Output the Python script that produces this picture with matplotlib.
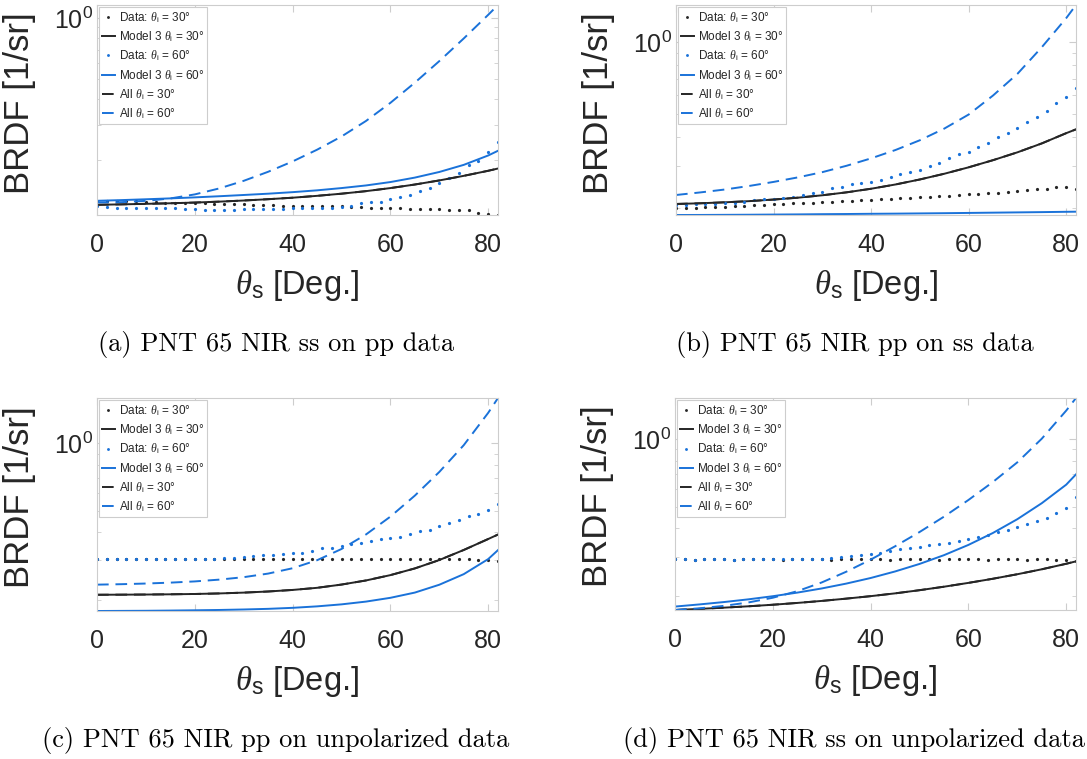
import numpy as np
import matplotlib
matplotlib.use("Agg")
import matplotlib.pyplot as plt
from matplotlib.ticker import LogLocator, NullFormatter

plt.rcParams["font.family"] = ["Liberation Sans", "DejaVu Sans"]
plt.rcParams["mathtext.fontset"] = "custom"
plt.rcParams["mathtext.rm"] = "Liberation Sans"
plt.rcParams["mathtext.it"] = "Liberation Serif:italic"

# --- data (angles in degrees, BRDF in 1/sr) ----------------------------------
THETA_DATA = list(range(0, 83, 2))
THETA_MODEL = [0, 5, 10, 15, 20, 25, 30, 35, 40, 45, 50, 55, 60, 65, 70, 75, 80, 82]

# (a) PNT 65 NIR ss on pp data
a_data30 = [0.127, 0.127, 0.126, 0.126, 0.126, 0.125, 0.125, 0.124,
            0.124, 0.123, 0.123, 0.123, 0.122, 0.122, 0.122, 0.122, 0.121, 0.121, 0.121, 0.120,
            0.120, 0.120, 0.119, 0.119, 0.119, 0.119, 0.118, 0.118,
            0.117, 0.117, 0.117, 0.117, 0.116, 0.116,
            0.115, 0.115, 0.114, 0.114, 0.114, 0.111, 0.109, 0.108]
a_data60 = [0.119, 0.118, 0.117, 0.117, 0.117, 0.117, 0.117, 0.117, 0.117,
            0.115, 0.115, 0.114, 0.114, 0.114, 0.114, 0.115, 0.115,
            0.116, 0.116, 0.116, 0.117, 0.117, 0.117, 0.117, 0.117, 0.118, 0.120,
            0.1235, 0.125, 0.125, 0.129, 0.132, 0.136, 0.142, 0.147, 0.155, 0.164,
            0.174, 0.190, 0.199, 0.221, 0.245]
a_model30 = [0.1212, 0.1218, 0.1225, 0.1233, 0.1243, 0.1256, 0.1272, 0.1291, 0.1313,
             0.1341, 0.1374, 0.1414, 0.1464, 0.1524, 0.1596, 0.1681, 0.1780, 0.1826]
a_model60 = [0.1268, 0.1278, 0.1290, 0.1303, 0.1318, 0.1335, 0.1354, 0.1374, 0.1398,
             0.1427, 0.1464, 0.1508, 0.1567, 0.1648, 0.1756, 0.1903, 0.2116, 0.2231]
a_all30 = a_model30  # lies on top of the Model 3 curve
a_all60 = [0.1245, 0.1249, 0.1267, 0.1302, 0.1363, 0.1458, 0.1589, 0.1760, 0.1978,
           0.2258, 0.2622, 0.3124, 0.3835, 0.4817, 0.6145, 0.7938, 1.0368, 1.1581]

# (b) PNT 65 NIR pp on ss data
b_data30 = [0.200, 0.200, 0.201, 0.202, 0.203, 0.2033, 0.204, 0.205, 0.206, 0.207,
            0.208, 0.209, 0.210, 0.210, 0.211, 0.212, 0.213, 0.214, 0.215, 0.216,
            0.217, 0.218, 0.219, 0.220, 0.221, 0.2225, 0.224, 0.225, 0.226, 0.228,
            0.229, 0.230, 0.232, 0.233, 0.235, 0.2366, 0.238, 0.240, 0.242, 0.245,
            0.247, 0.241]
b_data60 = [0.207, 0.207, 0.209, 0.209, 0.209, 0.210, 0.211, 0.213, 0.217, 0.218,
            0.219, 0.222, 0.224, 0.228, 0.231, 0.235, 0.243, 0.247, 0.252, 0.256,
            0.259, 0.263, 0.272, 0.279, 0.283, 0.290, 0.302, 0.309, 0.325, 0.338,
            0.346, 0.363, 0.375, 0.398, 0.413, 0.434, 0.463, 0.486, 0.513, 0.553,
            0.589, 0.639]
b_model30 = [0.2086, 0.2100, 0.2120, 0.2144, 0.2177, 0.2217, 0.2269, 0.2335, 0.2417,
             0.2519, 0.2644, 0.2794, 0.2974, 0.3187, 0.3438, 0.3748, 0.4138, 0.4293]
b_model60 = [0.1875, 0.1876, 0.1878, 0.188, 0.1883, 0.1886, 0.189, 0.1893, 0.1897,
             0.190, 0.1904, 0.1908, 0.1913, 0.1918, 0.1923, 0.1928, 0.1934, 0.1936]
b_all30 = b_model30
b_all60 = [0.2275, 0.2333, 0.2399, 0.2483, 0.2582, 0.2698, 0.2838, 0.3020, 0.3243,
           0.3516, 0.3864, 0.4325, 0.4955, 0.5957, 0.7345, 0.9506, 1.259, 1.429]

# (c) PNT 65 NIR pp on unpolarized data
c_data30 = [0.304, 0.303, 0.304, 0.303, 0.303, 0.304, 0.303, 0.303, 0.303, 0.304,
            0.303, 0.303, 0.303, 0.304, 0.303, 0.303, 0.303, 0.304, 0.303, 0.303,
            0.303, 0.303, 0.304, 0.303, 0.303, 0.303, 0.303, 0.304, 0.303, 0.303,
            0.303, 0.303, 0.303, 0.303, 0.304, 0.303, 0.303, 0.303, 0.303, 0.302,
            0.302, 0.297]
c_data60 = [0.303, 0.303, 0.303, 0.303, 0.303, 0.303, 0.303, 0.303, 0.303, 0.303,
            0.303, 0.303, 0.305, 0.307, 0.308, 0.310, 0.313, 0.316, 0.318, 0.320,
            0.322, 0.324, 0.330, 0.339, 0.341, 0.349, 0.355, 0.360, 0.366, 0.372,
            0.376, 0.383, 0.394, 0.404, 0.411, 0.428, 0.440, 0.453, 0.472, 0.481,
            0.503, 0.534]
c_model30 = [0.2102, 0.2104, 0.2107, 0.2112, 0.2119, 0.2131, 0.2149, 0.2174, 0.2209,
             0.2258, 0.2335, 0.2436, 0.2574, 0.2758, 0.3007, 0.3336, 0.3735, 0.3911]
c_model60 = [0.1778, 0.1780, 0.1782, 0.1786, 0.1791, 0.1797, 0.1806, 0.1818, 0.1837,
             0.1865, 0.1904, 0.1959, 0.2037, 0.2150, 0.2331, 0.2600, 0.3037, 0.3331]
c_all30 = c_model30
c_all60 = [0.2333, 0.2344, 0.2360, 0.2382, 0.2412, 0.2457, 0.2520, 0.2615, 0.2763,
           0.3001, 0.3369, 0.3913, 0.4705, 0.5843, 0.7455, 0.9829, 1.372, 1.598]

# (d) PNT 65 NIR ss on unpolarized data
d_data30 = [0.291, 0.291, 0.290, 0.291, 0.291, 0.291, 0.290, 0.291, 0.291, 0.291,
            0.291, 0.290, 0.291, 0.291, 0.291, 0.291, 0.290, 0.291, 0.291, 0.291,
            0.291, 0.291, 0.290, 0.291, 0.291, 0.291, 0.291, 0.290, 0.291, 0.291,
            0.291, 0.291, 0.290, 0.291, 0.291, 0.291, 0.290, 0.291, 0.291, 0.290,
            0.290, 0.286]
d_data60 = [0.291, 0.291, 0.290, 0.291, 0.291, 0.291, 0.290, 0.291, 0.291, 0.291,
            0.291, 0.292, 0.292, 0.292, 0.293, 0.293, 0.296, 0.298, 0.301, 0.304,
            0.3085, 0.312, 0.318, 0.323, 0.327, 0.332, 0.337, 0.341, 0.345, 0.351,
            0.3585, 0.367, 0.375, 0.384, 0.394, 0.405, 0.4165, 0.430, 0.445, 0.466,
            0.494, 0.5525]
d_model30 = [0.1735, 0.1755, 0.1777, 0.1802, 0.1831, 0.1865, 0.1904, 0.1949, 0.1999,
             0.2057, 0.2125, 0.2202, 0.2290, 0.2389, 0.2502, 0.2632, 0.2785, 0.2855]
d_model60 = [0.1797, 0.1837, 0.1882, 0.1935, 0.1998, 0.2073, 0.2163, 0.2273, 0.2407,
             0.2574, 0.2780, 0.3041, 0.3378, 0.3816, 0.4395, 0.5177, 0.6259, 0.6954]
d_all30 = d_model30
d_all60 = [0.1735, 0.1765, 0.1810, 0.1874, 0.1967, 0.2103, 0.2300, 0.2566, 0.2905,
           0.3330, 0.3853, 0.4510, 0.5349, 0.6430, 0.7866, 1.0018, 1.3358, 1.5196]

CAPTIONS = ["(a) PNT 65 NIR ss on pp data",
            "(b) PNT 65 NIR pp on ss data",
            "(c) PNT 65 NIR pp on unpolarized data",
            "(d) PNT 65 NIR ss on unpolarized data"]

LABELS = [r"Data: $\theta_{\mathrm{i}}$ = 30°",
          r"Model 3 $\theta_{\mathrm{i}}$ = 30°",
          r"Data: $\theta_{\mathrm{i}}$ = 60°",
          r"Model 3 $\theta_{\mathrm{i}}$ = 60°",
          r"All $\theta_{\mathrm{i}}$ = 30°",
          r"All $\theta_{\mathrm{i}}$ = 60°"]

# --- style ---------------------------------------------------------------------
BLACK = "#262626"
BLUE = "#1a72d9"
GRAY = "#cdcdcd"
TXT = "#262626"
DASH = (0, (6, 3.5))

W, H = 1087, 759
fig = plt.figure(figsize=(W / 100, H / 100), dpi=100)

# axes boxes in pixels: left, top, right, bottom
boxes = [(97, 5, 498, 215), (676, 5, 1076, 215),
         (97, 398, 498, 611), (675, 398, 1076, 610)]
panels = [(a_data30, a_model30, a_data60, a_model60, a_all30, a_all60),
          (b_data30, b_model30, b_data60, b_model60, b_all30, b_all60),
          (c_data30, c_model30, c_data60, c_model60, c_all30, c_all60),
          (d_data30, d_model30, d_data60, d_model60, d_all30, d_all60)]
cap_pos = [(276, 344), (855, 344), (276, 740), (854, 740)]

for (l, t, r, b), series, cap, (cx, cy) in zip(boxes, panels, CAPTIONS, cap_pos):
    ax = fig.add_axes([l / W, 1 - b / H, (r - l) / W, (b - t) / H])
    d30, m30, d60, m60, all30, all60 = series
    ax.plot(THETA_DATA, d30, ls="none", marker="o", ms=2.3, mec="none",
            color=BLACK, label=LABELS[0])
    ax.plot(THETA_MODEL, m30, color=BLACK, lw=1.4, label=LABELS[1])
    ax.plot(THETA_DATA, d60, ls="none", marker="o", ms=2.3, mec="none",
            color=BLUE, label=LABELS[2])
    ax.plot(THETA_MODEL, m60, color=BLUE, lw=1.4, label=LABELS[3])
    ax.plot(THETA_MODEL, all30, color=BLACK, lw=1.4, ls=DASH, label=LABELS[4])
    ax.plot(THETA_MODEL, all60, color=BLUE, lw=1.4, ls=DASH, label=LABELS[5])

    ax.set_yscale("log")
    allv = np.concatenate([np.asarray(s, float) for s in series])
    ax.set_ylim(allv.min(), allv.max())
    ax.set_xlim(0, 82)
    ax.set_xticks([0, 20, 40, 60, 80])
    ax.yaxis.set_major_locator(LogLocator(base=10))
    ax.yaxis.set_minor_locator(LogLocator(base=10, subs=np.arange(2, 10), numticks=20))
    ax.yaxis.set_minor_formatter(NullFormatter())
    ax.tick_params(which="both", direction="in", top=True, right=True,
                   color=GRAY, labelcolor=TXT, labelsize=18)
    ax.tick_params(which="major", length=5, width=0.8)
    ax.tick_params(which="minor", length=3, width=0.6)
    ax.tick_params(axis="x", pad=13)
    ax.tick_params(axis="y", pad=3)
    for sp in ax.spines.values():
        sp.set_color(GRAY)
        sp.set_linewidth(0.8)

    ax.set_xlabel(r"$\theta_{\mathrm{s}}$ [Deg.]", fontsize=23.5, color=TXT)
    ax.xaxis.set_label_coords(0.5, -53 / (b - t))
    ax.set_ylabel("BRDF [1/sr]", fontsize=25, color=TXT)
    ax.yaxis.set_label_coords(-61 / (r - l), 0.535)

    leg = ax.legend(loc="upper left", bbox_to_anchor=(0.005, 0.99),
                    borderaxespad=0, fontsize=8.5, frameon=True, fancybox=False,
                    framealpha=1, edgecolor=GRAY, handlelength=1.1,
                    handletextpad=0.35, labelspacing=0.38, borderpad=0.25,
                    numpoints=1, markerscale=0.9)
    leg.get_frame().set_linewidth(0.8)
    for txt in leg.get_texts():
        txt.set_color(TXT)

    fig.text(cx / W, 1 - cy / H, cap, ha="center", va="center",
             fontsize=19, family="cmr10", color="black")

fig.savefig("out.png", dpi=100)
